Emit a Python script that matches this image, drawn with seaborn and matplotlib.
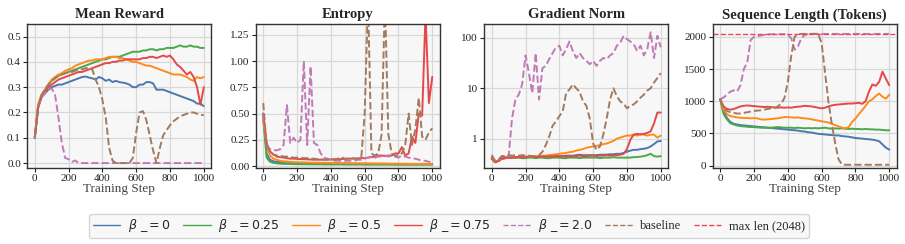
import numpy as np
import pandas as pd
import matplotlib
matplotlib.use('Agg')
import matplotlib.pyplot as plt
import seaborn as sns
from matplotlib.ticker import FixedLocator, FixedFormatter

# training steps (every 20 steps)
steps = list(range(0, 1001, 20))

# ---------------- Mean Reward ----------------
reward_b0 = [0.10, 0.22, 0.26, 0.275, 0.29, 0.30, 0.305, 0.31, 0.31, 0.315,
             0.32, 0.325, 0.33, 0.335, 0.34, 0.342, 0.338, 0.335, 0.33, 0.34,
             0.335, 0.325, 0.33, 0.32, 0.325, 0.32, 0.318, 0.315, 0.31, 0.30,
             0.30, 0.31, 0.31, 0.32, 0.32, 0.315, 0.29, 0.29, 0.29, 0.285,
             0.28, 0.275, 0.27, 0.265, 0.26, 0.255, 0.25, 0.245, 0.235, 0.235,
             0.225]
reward_b025 = [0.10, 0.23, 0.27, 0.29, 0.31, 0.325, 0.335, 0.345, 0.35, 0.355,
               0.36, 0.365, 0.37, 0.375, 0.38, 0.385, 0.39, 0.395, 0.40, 0.405,
               0.41, 0.41, 0.415, 0.42, 0.42, 0.42, 0.425, 0.43, 0.435, 0.44,
               0.44, 0.44, 0.445, 0.445, 0.45, 0.45, 0.445, 0.45, 0.45, 0.455,
               0.455, 0.455, 0.46, 0.465, 0.46, 0.46, 0.465, 0.46, 0.46, 0.455,
               0.455]
reward_b05 = [0.10, 0.23, 0.27, 0.29, 0.31, 0.33, 0.34, 0.35, 0.355, 0.365,
              0.37, 0.375, 0.385, 0.39, 0.395, 0.40, 0.405, 0.405, 0.41, 0.41,
              0.41, 0.415, 0.42, 0.42, 0.42, 0.415, 0.415, 0.41, 0.405, 0.40,
              0.40, 0.395, 0.39, 0.385, 0.385, 0.38, 0.375, 0.37, 0.365, 0.36,
              0.355, 0.35, 0.35, 0.35, 0.345, 0.34, 0.33, 0.325, 0.34, 0.335,
              0.34]
reward_b075 = [0.10, 0.22, 0.265, 0.285, 0.30, 0.31, 0.32, 0.33, 0.335, 0.34,
               0.345, 0.35, 0.355, 0.36, 0.36, 0.365, 0.37, 0.375, 0.38, 0.385,
               0.39, 0.395, 0.395, 0.40, 0.40, 0.405, 0.405, 0.41, 0.41, 0.41,
               0.41, 0.41, 0.415, 0.415, 0.42, 0.42, 0.415, 0.42, 0.425, 0.42,
               0.425, 0.41, 0.39, 0.38, 0.365, 0.35, 0.36, 0.34, 0.30, 0.23,
               0.30]
reward_b2 = [0.10, 0.22, 0.26, 0.275, 0.29, 0.295, 0.27, 0.18, 0.08, 0.02,
             0.015, 0.005, 0.01, 0.0, 0.0, 0.0, 0.0, 0.0, 0.0, 0.0,
             0.0, 0.0, 0.0, 0.0, 0.0, 0.0, 0.0, 0.0, 0.0, 0.0,
             0.0, 0.0, 0.0, 0.0, 0.0, 0.0, 0.0, 0.0, 0.0, 0.0,
             0.0, 0.0, 0.0, 0.0, 0.0, 0.0, 0.0, 0.0, 0.0, 0.0,
             0.0]
reward_base = [0.10, 0.22, 0.265, 0.29, 0.31, 0.325, 0.335, 0.345, 0.35, 0.355,
               0.36, 0.36, 0.365, 0.37, 0.37, 0.375, 0.375, 0.37, 0.33, 0.30,
               0.25, 0.18, 0.06, 0.01, 0.0, 0.0, 0.0, 0.0, 0.0, 0.02,
               0.12, 0.20, 0.205, 0.17, 0.11, 0.05, 0.0, 0.06, 0.11, 0.13,
               0.15, 0.165, 0.175, 0.185, 0.19, 0.195, 0.20, 0.20, 0.195, 0.19,
               0.19]

# ---------------- Entropy ----------------
ent_b0 = [0.50, 0.12, 0.06, 0.045, 0.04, 0.036, 0.034, 0.032, 0.03, 0.03,
          0.029, 0.028, 0.028, 0.027, 0.027, 0.026, 0.026, 0.025, 0.025, 0.025,
          0.024, 0.024, 0.024, 0.023, 0.023, 0.023, 0.022, 0.022, 0.022, 0.022,
          0.022, 0.022, 0.021, 0.021, 0.021, 0.021, 0.021, 0.02, 0.02, 0.02,
          0.02, 0.02, 0.02, 0.02, 0.02, 0.02, 0.02, 0.02, 0.02, 0.02,
          0.02]
ent_b025 = [0.45, 0.08, 0.04, 0.03, 0.025, 0.022, 0.02, 0.02, 0.019, 0.018,
            0.018, 0.017, 0.017, 0.017, 0.016, 0.016, 0.016, 0.016, 0.015, 0.015,
            0.015, 0.015, 0.015, 0.015, 0.014, 0.014, 0.014, 0.014, 0.014, 0.014,
            0.013, 0.013, 0.013, 0.013, 0.013, 0.013, 0.013, 0.013, 0.013, 0.012,
            0.012, 0.012, 0.012, 0.012, 0.012, 0.012, 0.012, 0.012, 0.012, 0.012,
            0.012]
ent_b05 = [0.45, 0.20, 0.10, 0.07, 0.06, 0.05, 0.045, 0.042, 0.04, 0.038,
           0.037, 0.036, 0.035, 0.034, 0.033, 0.032, 0.032, 0.031, 0.031, 0.03,
           0.03, 0.029, 0.029, 0.028, 0.028, 0.027, 0.027, 0.026, 0.026, 0.025,
           0.025, 0.025, 0.024, 0.024, 0.024, 0.023, 0.023, 0.023, 0.022, 0.022,
           0.022, 0.021, 0.021, 0.021, 0.02, 0.02, 0.02, 0.02, 0.02, 0.02,
           0.02]
ent_b075 = [0.50, 0.22, 0.14, 0.11, 0.09, 0.085, 0.08, 0.075, 0.07, 0.07,
            0.068, 0.066, 0.065, 0.063, 0.062, 0.06, 0.06, 0.06, 0.062, 0.062,
            0.063, 0.065, 0.065, 0.066, 0.068, 0.07, 0.07, 0.072, 0.072, 0.075,
            0.075, 0.08, 0.085, 0.09, 0.10, 0.10, 0.095, 0.10, 0.10, 0.12,
            0.12, 0.18, 0.10, 0.12, 0.28, 0.22, 0.50, 0.48, 1.45, 0.60,
            0.85]
ent_b2 = [0.50, 0.20, 0.16, 0.15, 0.15, 0.16, 0.20, 0.58, 0.22, 0.27,
          0.22, 0.25, 1.00, 0.20, 0.95, 0.22, 0.20, 0.12, 0.08, 0.07,
          0.06, 0.05, 0.05, 0.05, 0.05, 0.05, 0.05, 0.05, 0.06, 0.06,
          0.07, 0.08, 0.09, 0.08, 0.09, 0.09, 0.10, 0.09, 0.10, 0.09,
          0.08, 0.10, 0.09, 0.08, 0.07, 0.07, 0.06, 0.05, 0.05, 0.04,
          0.04]
ent_base = [0.60, 0.20, 0.13, 0.11, 0.10, 0.10, 0.09, 0.09, 0.085, 0.08,
            0.08, 0.08, 0.075, 0.075, 0.07, 0.07, 0.065, 0.065, 0.06, 0.06,
            0.06, 0.06, 0.07, 0.085, 0.07, 0.07, 0.075, 0.07, 0.07, 0.08,
            0.50, 1.60, 0.12, 0.10, 0.12, 0.30, 1.60, 0.30, 0.12, 0.10,
            0.10, 0.12, 0.20, 0.50, 0.20, 0.35, 0.65, 0.28, 0.25, 0.32,
            0.36]

# ---------------- Gradient Norm ----------------
grad_b0 = [0.42, 0.35, 0.36, 0.40, 0.41, 0.42, 0.42, 0.42, 0.43, 0.43,
           0.43, 0.43, 0.44, 0.43, 0.44, 0.44, 0.44, 0.44, 0.45, 0.45,
           0.45, 0.45, 0.46, 0.46, 0.46, 0.47, 0.48, 0.47, 0.47, 0.47,
           0.47, 0.47, 0.48, 0.48, 0.48, 0.49, 0.49, 0.50, 0.50, 0.52,
           0.55, 0.58, 0.60, 0.60, 0.62, 0.63, 0.65, 0.70, 0.78, 0.88,
           0.90]
grad_b025 = [0.40, 0.34, 0.37, 0.42, 0.43, 0.42, 0.42, 0.42, 0.42, 0.41,
             0.41, 0.42, 0.42, 0.41, 0.42, 0.42, 0.41, 0.41, 0.42, 0.42,
             0.42, 0.41, 0.41, 0.42, 0.42, 0.42, 0.41, 0.42, 0.42, 0.42,
             0.42, 0.42, 0.41, 0.42, 0.42, 0.42, 0.43, 0.42, 0.42, 0.42,
             0.42, 0.42, 0.43, 0.43, 0.44, 0.45, 0.47, 0.50, 0.45, 0.44,
             0.45]
grad_b05 = [0.40, 0.34, 0.37, 0.40, 0.41, 0.42, 0.42, 0.43, 0.43, 0.43,
            0.44, 0.44, 0.44, 0.45, 0.45, 0.46, 0.46, 0.47, 0.48, 0.49,
            0.50, 0.51, 0.52, 0.54, 0.55, 0.58, 0.60, 0.62, 0.66, 0.68,
            0.70, 0.72, 0.74, 0.78, 0.80, 0.85, 0.90, 1.00, 1.05, 1.10,
            1.15, 1.15, 1.20, 1.15, 1.25, 1.20, 1.15, 1.20, 1.20, 1.05,
            1.15]
grad_b075 = [0.40, 0.34, 0.36, 0.40, 0.41, 0.42, 0.42, 0.43, 0.43, 0.43,
             0.43, 0.44, 0.44, 0.43, 0.44, 0.44, 0.44, 0.45, 0.44, 0.45,
             0.45, 0.45, 0.44, 0.45, 0.45, 0.45, 0.46, 0.45, 0.45, 0.46,
             0.46, 0.45, 0.46, 0.46, 0.47, 0.46, 0.47, 0.47, 0.48, 0.50,
             0.62, 0.95, 1.20, 1.25, 1.20, 1.25, 1.30, 1.40, 2.00, 3.30,
             3.30]
grad_b2 = [0.48, 0.36, 0.38, 0.45, 0.44, 0.45, 2.5, 6.0, 7.5, 12.0,
           45.0, 20.0, 8.0, 50.0, 6.0, 25.0, 28.0, 38.0, 50.0, 65.0,
           70.0, 45.0, 60.0, 85.0, 55.0, 40.0, 50.0, 40.0, 35.0, 30.0,
           35.0, 28.0, 35.0, 40.0, 38.0, 45.0, 50.0, 70.0, 80.0, 110.0,
           95.0, 85.0, 75.0, 55.0, 70.0, 45.0, 60.0, 130.0, 40.0, 110.0,
           65.0]
grad_base = [0.45, 0.36, 0.38, 0.45, 0.45, 0.47, 0.46, 0.47, 0.46, 0.47,
             0.46, 0.46, 0.45, 0.45, 0.47, 0.55, 0.75, 1.1, 1.8, 2.2,
             2.8, 3.5, 8.0, 9.5, 12.0, 10.0, 8.5, 5.5, 4.5, 2.5,
             0.8, 0.6, 0.7, 1.2, 2.5, 6.0, 10.0, 7.0, 5.5, 5.0,
             4.0, 4.5, 4.8, 5.5, 6.5, 7.5, 9.0, 10.0, 13.0, 16.0,
             20.0]

# ---------------- Sequence Length ----------------
len_b0 = [1030, 850, 740, 680, 650, 640, 630, 625, 620, 615,
          610, 605, 600, 595, 590, 585, 580, 575, 570, 565,
          560, 555, 550, 545, 535, 530, 520, 515, 505, 495,
          490, 485, 480, 475, 470, 470, 460, 455, 450, 440,
          430, 425, 420, 415, 410, 405, 395, 380, 330, 280,
          250]
len_b025 = [1030, 800, 720, 660, 640, 625, 615, 610, 605, 600,
            600, 595, 590, 590, 590, 590, 595, 600, 595, 590,
            590, 590, 585, 590, 585, 580, 585, 580, 585, 580,
            585, 590, 580, 575, 580, 575, 580, 575, 570, 575,
            570, 570, 565, 570, 565, 565, 560, 560, 555, 550,
            550]
len_b05 = [1030, 880, 800, 770, 760, 750, 745, 740, 740, 735,
           740, 735, 720, 715, 720, 725, 730, 735, 745, 755,
           755, 750, 745, 750, 740, 735, 730, 720, 710, 700,
           690, 680, 670, 650, 630, 610, 590, 580, 600, 680,
           730, 800, 860, 930, 1000, 1030, 1080, 1120, 1070, 1040,
           1100]
len_b075 = [1030, 920, 880, 870, 880, 900, 920, 930, 935, 930,
            925, 920, 915, 910, 915, 910, 905, 900, 905, 900,
            905, 900, 910, 915, 920, 930, 925, 920, 910, 900,
            890, 900, 920, 935, 945, 950, 955, 960, 965, 965,
            970, 975, 960, 1000, 1150, 1260, 1240, 1300, 1460, 1350,
            1250]
len_b2 = [1030, 1060, 1100, 1150, 1170, 1150, 1250, 1500, 1600, 1950,
          2000, 2010, 2020, 2030, 2035, 2040, 2040, 2040, 2040, 2040,
          2030, 1980, 1800, 1850, 1980, 2030, 2040, 2045, 2045, 2045,
          2045, 2045, 2045, 2045, 2045, 2045, 2045, 2045, 2045, 2045,
          2045, 2045, 2045, 2045, 2045, 2045, 2045, 2045, 2045, 2045,
          2045]
len_base = [1030, 900, 850, 830, 820, 810, 810, 820, 830, 840,
            850, 855, 860, 870, 880, 890, 890, 920, 960, 1050,
            1300, 1700, 2000, 2040, 2045, 2045, 2045, 2045, 2045, 2045,
            1900, 1450, 1000, 650, 350, 100, 20, 15, 15, 15,
            15, 15, 15, 15, 15, 15, 15, 15, 15, 15,
            15]
max_len = 2048

labels = [r'$\beta\ \_=0$', r'$\beta\ \_=0.25$', r'$\beta\ \_=0.5$',
          r'$\beta\ \_=0.75$', r'$\beta\ \_=2.0$', 'baseline']
colors = ['#4a78b0', '#4aa84a', '#ff8c1a', '#e5484a', '#c07ab6', '#a47a5e']
styles = ['-', '-', '-', '-', '--', '--']

panels = [
    ('Mean Reward', [reward_b0, reward_b025, reward_b05, reward_b075, reward_b2, reward_base]),
    ('Entropy', [ent_b0, ent_b025, ent_b05, ent_b075, ent_b2, ent_base]),
    ('Gradient Norm', [grad_b0, grad_b025, grad_b05, grad_b075, grad_b2, grad_base]),
    ('Sequence Length (Tokens)', [len_b0, len_b025, len_b05, len_b075, len_b2, len_base]),
]

sns.set_theme(style='whitegrid')
plt.rcParams['font.family'] = ['Liberation Serif', 'DejaVu Serif']
plt.rcParams['mathtext.fontset'] = 'dejavusans'

fig, axes = plt.subplots(1, 4, figsize=(9.05, 2.44), dpi=100)
fig.subplots_adjust(left=0.030, right=0.991, top=0.902, bottom=0.311, wspace=0.24)

for ax, (title, series) in zip(axes, panels):
    ax.set_facecolor('#f7f7f7')
    for vals, lab, c, ls in zip(series, labels, colors, styles):
        sns.lineplot(x=steps, y=vals, ax=ax, color=c, linestyle=ls, linewidth=1.4, label=lab, legend=False)
    ax.set_title(title, fontsize=10.5, fontweight='bold', pad=4)
    ax.set_xlabel('Training Step', fontsize=9.5, labelpad=0, color='#444444')
    ax.set_ylabel('')
    ax.set_xticks([0, 200, 400, 600, 800, 1000])
    ax.set_xlim(-45, 1045)
    ax.tick_params(labelsize=8, pad=1.5, length=3, width=0.8, colors='#222222',
                   left=True, bottom=True)
    ax.grid(True, color='#d8d8d8', linewidth=0.9)
    for sp in ax.spines.values():
        sp.set_color('#333333')
        sp.set_linewidth(1.0)

axes[0].set_ylim(-0.02, 0.55)
axes[0].set_yticks([0.0, 0.1, 0.2, 0.3, 0.4, 0.5])
axes[1].set_ylim(-0.02, 1.355)
axes[1].set_yticks([0.0, 0.25, 0.5, 0.75, 1.0, 1.25])
axes[2].set_yscale('log')
axes[2].set_ylim(0.26, 190)
axes[2].yaxis.set_major_locator(FixedLocator([1, 10, 100]))
axes[2].yaxis.set_major_formatter(FixedFormatter(['1', '10', '100']))
axes[2].yaxis.set_minor_locator(FixedLocator([]))
axes[3].set_ylim(-37, 2200)
axes[3].set_yticks([0, 500, 1000, 1500, 2000])
axes[3].axhline(max_len, color='#e8485a', linestyle='--', linewidth=1.0, label='max len (2048)')

handles, leg_labels = axes[3].get_legend_handles_labels()
leg = fig.legend(handles, leg_labels, loc='center', bbox_to_anchor=(0.496, 0.074), ncol=7,
                 fontsize=9, frameon=True, handlelength=2.2, columnspacing=1.0,
                 handletextpad=0.6, borderpad=0.3)
leg.get_frame().set_facecolor('#f7f7f7')
leg.get_frame().set_edgecolor('#cccccc')
for line in leg.get_lines():
    line.set_linewidth(1.0)

fig.savefig('out.png', dpi=100)
